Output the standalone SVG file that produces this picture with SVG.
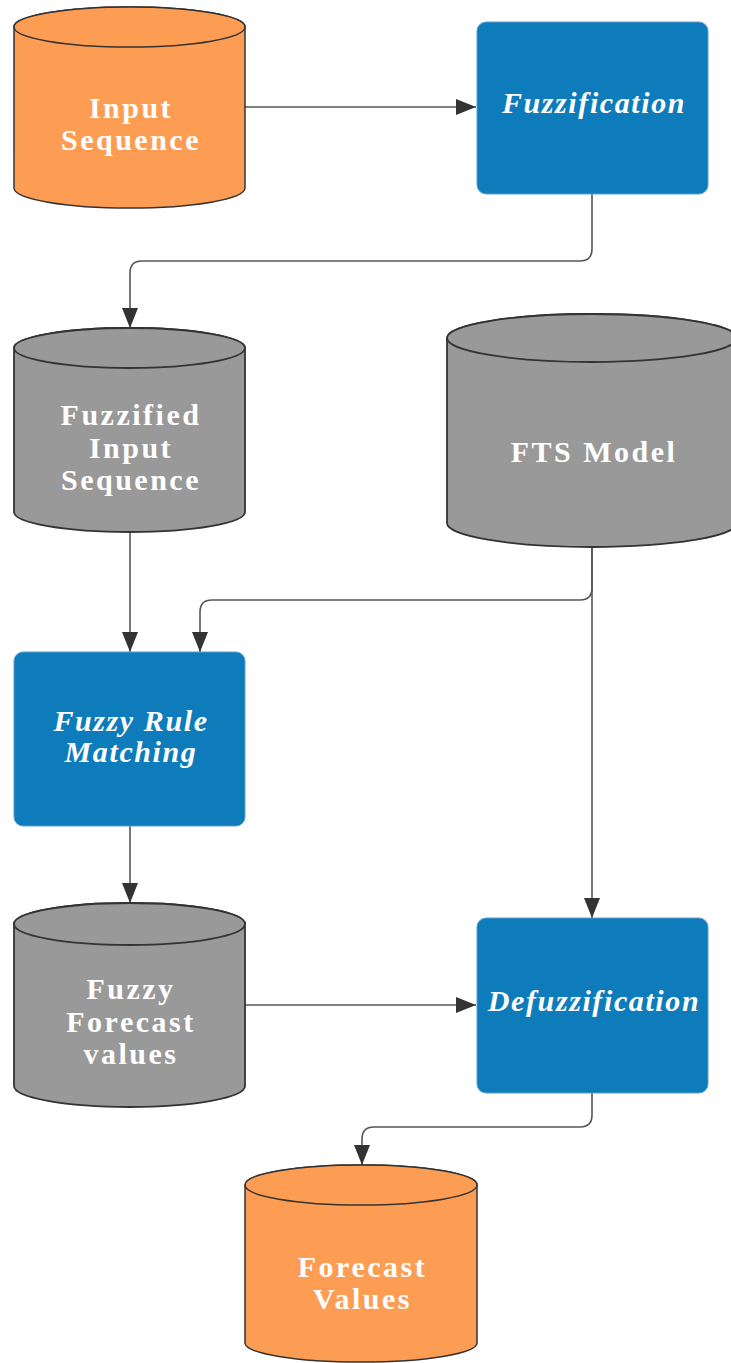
<svg xmlns="http://www.w3.org/2000/svg" width="731" height="1363" viewBox="0 0 731 1363">
<style>
.orange{fill:#FD9D53;stroke:#333;stroke-width:1.5}
.gray{fill:#999999;stroke:#333;stroke-width:1.8}
.box{fill:#0E7BBA;stroke:#5C9FCF;stroke-width:1}
.t{font-family:"Liberation Serif",serif;font-weight:bold;font-size:30px;fill:#fff;text-anchor:middle;letter-spacing:2.5px}
.ti{font-style:italic;letter-spacing:1.6px}
.c{fill:none;stroke:#555;stroke-width:1.6}
</style>
<defs>
<marker id="arr" markerUnits="userSpaceOnUse" markerWidth="20" markerHeight="16" refX="20" refY="8" orient="auto">
<path d="M0 0 L20 8 L0 16 Z" fill="#333"/>
</marker>
</defs>
<rect width="731" height="1363" fill="#fff"/>
<g id="connectors">
<path class="c" d="M245 107 H476" marker-end="url(#arr)"/>
<path class="c" d="M592 194 V249 Q592 261 580 261 H142 Q130 261 130 273 V328" marker-end="url(#arr)"/>
<path class="c" d="M130 532 V652" marker-end="url(#arr)"/>
<path class="c" d="M592 547 V918" marker-end="url(#arr)"/>
<path class="c" d="M592 547 V588 Q592 600 580 600 H212 Q200 600 200 612 V652" marker-end="url(#arr)"/>
<path class="c" d="M130 826 V903" marker-end="url(#arr)"/>
<path class="c" d="M245 1005 H476" marker-end="url(#arr)"/>
<path class="c" d="M592 1093 V1115 Q592 1127 580 1127 H374 Q362 1127 362 1139 V1165" marker-end="url(#arr)"/>
</g>
<g id="input-sequence">
<path class="orange" d="M14 27 A115.5 20 0 0 1 245 27 V188 A115.5 20 0 0 1 14 188 Z"/>
<ellipse class="orange" cx="129.5" cy="27" rx="115.5" ry="20"/>
<text class="t" x="131" y="118">Input</text>
<text class="t" x="131" y="150">Sequence</text>
</g>
<g id="fuzzification">
<rect class="box" x="477" y="22" width="231" height="172" rx="9"/>
<text class="t ti" x="594" y="113">Fuzzification</text>
</g>
<g id="fuzzified-input-sequence">
<path class="gray" d="M14 348 A115.5 20 0 0 1 245 348 V512 A115.5 20 0 0 1 14 512 Z"/>
<ellipse class="gray" cx="129.5" cy="348" rx="115.5" ry="20"/>
<text class="t" x="131" y="425">Fuzzified</text>
<text class="t" x="131" y="458">Input</text>
<text class="t" x="131" y="490">Sequence</text>
</g>
<g id="fts-model">
<path class="gray" d="M447 338 A145 24 0 0 1 737 338 V523 A145 24 0 0 1 447 523 Z"/>
<ellipse class="gray" cx="592" cy="338" rx="145" ry="24"/>
<text class="t" x="594" y="462">FTS Model</text>
</g>
<g id="fuzzy-rule-matching">
<rect class="box" x="14" y="652" width="231" height="174" rx="9"/>
<text class="t ti" x="131" y="731">Fuzzy Rule</text>
<text class="t ti" x="131" y="762">Matching</text>
</g>
<g id="fuzzy-forecast-values">
<path class="gray" d="M14 924 A115.5 21 0 0 1 245 924 V1086 A115.5 21 0 0 1 14 1086 Z"/>
<ellipse class="gray" cx="129.5" cy="924" rx="115.5" ry="21"/>
<text class="t" x="131" y="999">Fuzzy</text>
<text class="t" x="131" y="1032">Forecast</text>
<text class="t" x="131" y="1064">values</text>
</g>
<g id="defuzzification">
<rect class="box" x="477" y="918" width="231" height="175" rx="9"/>
<text class="t ti" x="594" y="1011">Defuzzification</text>
</g>
<g id="forecast-values">
<path class="orange" d="M245 1185 A116 20 0 0 1 477 1185 V1343 A116 19 0 0 1 245 1343 Z"/>
<ellipse class="orange" cx="361" cy="1185" rx="116" ry="20"/>
<text class="t" x="362.5" y="1277">Forecast</text>
<text class="t" x="362.5" y="1309">Values</text>
</g>
</svg>
